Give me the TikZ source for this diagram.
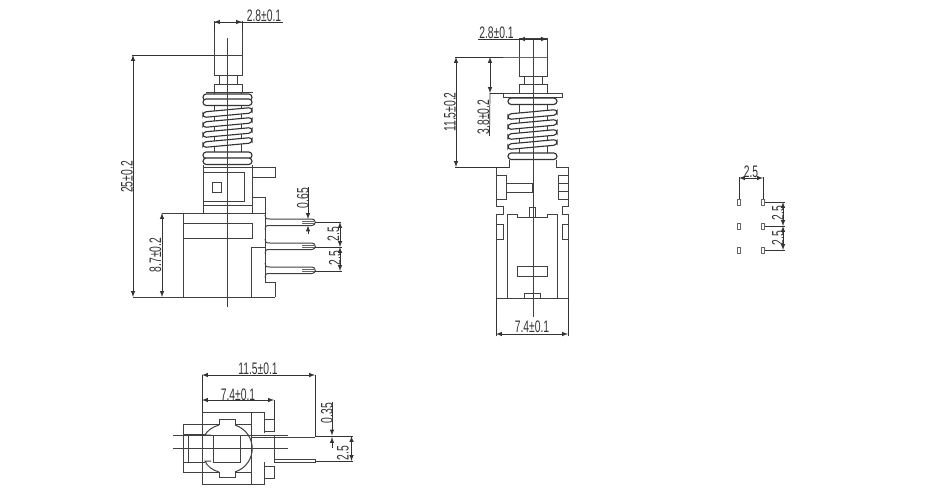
\documentclass[tikz,border=0pt]{standalone}
\usepackage{fontspec}
\setmainfont{Liberation Sans}
\usepackage{tikz}
\usetikzlibrary{positioning,arrows}
\newcommand{\dimtext}[1]{\scalebox{0.62}[1]{#1}}
\newcommand{\coilband}[3]{\draw[coil] (#1,#2) -- (#1+49,#2-4.5) -- (#1+49,#2+1) -- (#1,#2+5.5) -- cycle;}
\newcommand{\flatband}[3]{\draw[coil] (#1,#3) -- (#2,#3) -- (#2,#3+6.5) -- (#1,#3+6.5) -- cycle;}

\begin{document}
\begin{tikzpicture}[
x=0.75pt, y=-0.75pt,
part/.style={draw=black!75, line width=0.75pt},
coil/.style={draw=black!80, line width=0.85pt, fill=white, rounded corners=2.4pt},
thin part/.style={draw=black!60, line width=0.55pt},
dimline/.style={draw=black!80, line width=0.55pt},
dimarrow/.style={dimline, latex-latex, >=latex},
dimtip/.style={dimline, -latex},
dimlabel/.style={inner sep=0pt, font=\fontsize{12.5}{13}\selectfont, text=black!80},
]
\useasboundingbox (0,0) rectangle (950,500);
\fill[white] (0,0) rectangle (950,500);

% left view
\draw[part] (214,22) rectangle (242,75);
\draw[part] (214,55) -- (242,55);
\draw[part] (219,75) rectangle (237,84);
\draw[part] (214,84) rectangle (242,92);
\draw[part] (206,92) -- (253,92);
\draw[part] (214,92) -- (214,152);
\draw[part] (241,92) -- (241,152);
\flatband{203}{252}{94}
\flatband{203}{252}{99}
\foreach \y in {112,122,132,142} {\coilband{203}{\y}{}}
\flatband{203}{252}{152}
\flatband{203}{252}{158}
\draw[part] (203,165) -- (203,213);
\draw[part] (252,165) -- (252,213);
\draw[part] (203,167) -- (252,167);
\draw[part] (252,167) -- (275,167) -- (275,177) -- (252,177);
\draw[part] (203,172) -- (244,172) -- (244,201) -- (203,201);
\draw[part] (203,205) -- (252,205);
\draw[part] (212,182) rectangle (221,192);
\draw[part] (252,197) -- (265,197) -- (265,282) -- (275,282) -- (275,297);
\draw[part] (162,213) -- (265,213);
\draw[part] (133,297) -- (275,297);
\draw[part] (183,213) -- (183,297);
\draw[part] (183,223) -- (252,223) -- (252,238) -- (183,238);
\draw[part] (251,297) -- (251,247) -- (265,247);

% pins
\foreach \y in {219,243,267} {
  \draw[part] (265,\y-4) .. controls (266,\y) and (266,\y) .. (270,\y) -- (312,\y) arc (-90:90:3.25) -- (270,\y+6.5) .. controls (266,\y+6.5) and (266,\y+6.5) .. (265,\y+10.5);
  \draw[thin part] (302,\y+2) -- (314,\y+2);
  \draw[thin part] (302,\y+4.5) -- (314,\y+4.5);
}
\draw[part] (227,38) -- (227,307);

% left view dimensions
\draw[dimline] (214,21) -- (214,30);
\draw[dimline] (242,21) -- (242,30);
\draw[dimarrow] (214,22) -- (242,22);
\draw[dimline] (242,22) -- (283,22);
\node[dimlabel] (dimPlungerA) at (264,15.5) {\dimtext{2.8±0.1}};
\draw[dimline] (132,55) -- (214,55);
\draw[dimarrow] (133,55) -- (133,297);
\node[dimlabel, rotate=90] (dimTotal) at (127,177) {\dimtext{25±0.2}};
\draw[dimarrow] (162,213) -- (162,297);
\node[dimlabel, rotate=90] (dimBase) at (155.5,255) {\dimtext{8.7±0.2}};
\draw[dimline] (308,187) -- (308,208);
\draw[dimtip] (308,208) -- (308,219);
\draw[dimtip] (308,234) -- (308,225.5);
\node[dimlabel, rotate=90] (dimPinW) at (303,198) {\dimtext{0.65}};
\draw[dimline] (315,222) -- (341,222);
\draw[dimline] (315,247) -- (342,247);
\draw[dimline] (315,271) -- (342,271);
\draw[dimarrow] (340,222) -- (340,247);
\draw[dimarrow] (340,247) -- (340,271);
\node[dimlabel, rotate=90] (dimPitchA) at (333.5,234) {\dimtext{2.5}};
\node[dimlabel, rotate=90] (dimPitchB) at (335,258) {\dimtext{2.5}};

% middle view
\draw[part] (519,38) rectangle (547,76);
\draw[thin part] (503,57) -- (547,57);
\draw[part] (524,76) rectangle (542,84);
\draw[part] (519,84) rectangle (547,93);
\draw[part] (503,97) -- (503,93) -- (562,93) -- (562,97) -- cycle;
\draw[part] (519,97) -- (519,153);
\draw[part] (547,97) -- (547,153);
\flatband{508}{557}{98}
\foreach \y in {114,124,134,144} {\coilband{508}{\y}{}}
\flatband{508}{557}{153}
\draw[part] (509,160) -- (509,167) -- (496,167) -- (496,206) -- (503,206) -- (503,214) -- (496,214) -- (496,298) -- (568,298)
  -- (568,214) -- (562,214) -- (562,206) -- (568,206) -- (568,167) -- (556,167) -- (556,160);
\draw[part] (496,175) -- (506,175) -- (506,199) -- (496,199);
\draw[part] (506,183) -- (532,183) -- (532,192) -- (506,192);
\draw[part] (568,175) -- (558,175) -- (558,199) -- (568,199);
\draw[part] (558,183) -- (568,183);
\draw[part] (558,191) -- (568,191);
\draw[part] (507,298) -- (507,214) -- (517,214) -- (517,217) -- (547,217) -- (547,214) -- (557,214) -- (557,298);
\draw[part] (529,217) -- (529,207) -- (535,207) -- (535,217);
\draw[part] (496,224) -- (503,224) -- (503,239) -- (496,239);
\draw[part] (568,224) -- (562,224) -- (562,239) -- (568,239);
\draw[part] (517,266) rectangle (547,276);
\draw[part] (524,298) -- (524,293) -- (540,293) -- (540,298);
\draw[part] (533,38) -- (533,317);

% middle view dimensions
\draw[dimline] (478,39) -- (547,39);
\draw[dimarrow] (519,39) -- (547,39);
\node[dimlabel] (dimPlungerB) at (496.5,32.5) {\dimtext{2.8±0.1}};
\draw[dimline] (455,57) -- (503,57);
\draw[dimline] (455,167) -- (509,167);
\draw[dimarrow] (456,57) -- (456,167);
\node[dimlabel, rotate=90] (dimStroke) at (450,112) {\dimtext{11.5±0.2}};
\draw[dimline] (490,93) -- (503,93);
\draw[dimarrow] (490,57) -- (490,93);
\draw[dimline] (490,93) -- (489.5,136);
\node[dimlabel, rotate=90] (dimTravel) at (483.5,117) {\dimtext{3.8±0.2}};
\draw[dimline] (496,298) -- (496,336);
\draw[dimline] (568,298) -- (568,336);
\draw[dimarrow] (496,334) -- (568,334);
\node[dimlabel] (dimWidthA) at (532,327) {\dimtext{7.4±0.1}};

% footprint
\foreach \x in {739,763} {
  \foreach \y in {202,226,250} {
    \draw[thin part, fill=white] (\x-1.8,\y-3) rectangle (\x+1.8,\y+3);
  }
}
\draw[dimline] (739,199) -- (739,177);
\draw[dimline] (763,199) -- (763,177);
\draw[dimarrow] (739,178) -- (763,178);
\node[dimlabel] (dimPadA) at (751,172) {\dimtext{2.5}};
\draw[dimline] (765,202) -- (785,202);
\draw[dimline] (765,226) -- (785,226);
\draw[dimline] (765,250) -- (785,250);
\draw[dimarrow] (783,202) -- (783,226);
\draw[dimarrow] (783,226) -- (783,250);
\node[dimlabel, rotate=90] (dimPadB) at (778,213) {\dimtext{2.5}};
\node[dimlabel, rotate=90] (dimPadC) at (778,238) {\dimtext{2.5}};

% bottom view
\draw[part] (202,412) rectangle (251,484);
\draw[part] (251,412) -- (264,412) -- (264,433);
\draw[part] (251,484) -- (264,484) -- (264,462);
\draw[part] (264,419) -- (274,419) -- (274,431) -- (264,431);
\draw[part] (264,466) -- (274,466) -- (274,478) -- (264,478);
\draw[part] (274,435) -- (274,462);
\draw[part] (202,424) -- (183,424) -- (183,472) -- (219,472);
\draw[part] (202,424) -- (219,424);
\draw[part] (235,424) -- (251,424);
\draw[part] (235,472) -- (251,472);
\draw[part] (188,434) -- (188,462);
\draw[part] (183,434) -- (205,434);
\draw[part] (183,462) -- (205,462);
\draw[part] (219,425) -- (219,419) -- (235,419) -- (235,425);
\draw[part] (219,472) -- (219,477) -- (235,477) -- (235,472);
\draw[part] (235,425) .. controls (258,433) and (258,464) .. (235,472);
\draw[part] (219,425) .. controls (212,427) and (207,431) .. (205,435) -- (211,435);
\draw[part] (219,472) .. controls (212,470) and (207,466) .. (205,461) -- (211,461);
\draw[part] (213,435) rectangle (240,462);
\draw[part] (173,435) -- (288,435);
\draw[part] (173,448) -- (288,448);
\draw[part] (251,437) -- (315,437);
\draw[part] (274,459) -- (315,459) -- (315,462) -- (274,462) -- cycle;

% bottom view dimensions
\draw[dimline] (202,375) -- (202,412);
\draw[dimline] (315,375) -- (315,436);
\draw[dimarrow] (202,375) -- (315,375);
\node[dimlabel] (dimDepth) at (258,369) {\dimtext{11.5±0.1}};
\draw[dimline] (274,400) -- (274,419);
\draw[dimarrow] (202,400) -- (274,400);
\node[dimlabel] (dimWidthB) at (238,395) {\dimtext{7.4±0.1}};
\draw[dimline] (315,436) -- (353,436);
\draw[dimline] (315,461) -- (353,461);
\draw[dimline] (332,402) -- (332,428);
\draw[dimtip] (332,425) -- (332,435.5);
\draw[dimtip] (332,448) -- (332,437);
\node[dimlabel, rotate=90] (dimPinT) at (327,413) {\dimtext{0.35}};
\draw[dimarrow] (351.5,436) -- (351.5,461);
\node[dimlabel, rotate=90] (dimPitchC) at (343,453) {\dimtext{2.5}};
\end{tikzpicture}
\end{document}
